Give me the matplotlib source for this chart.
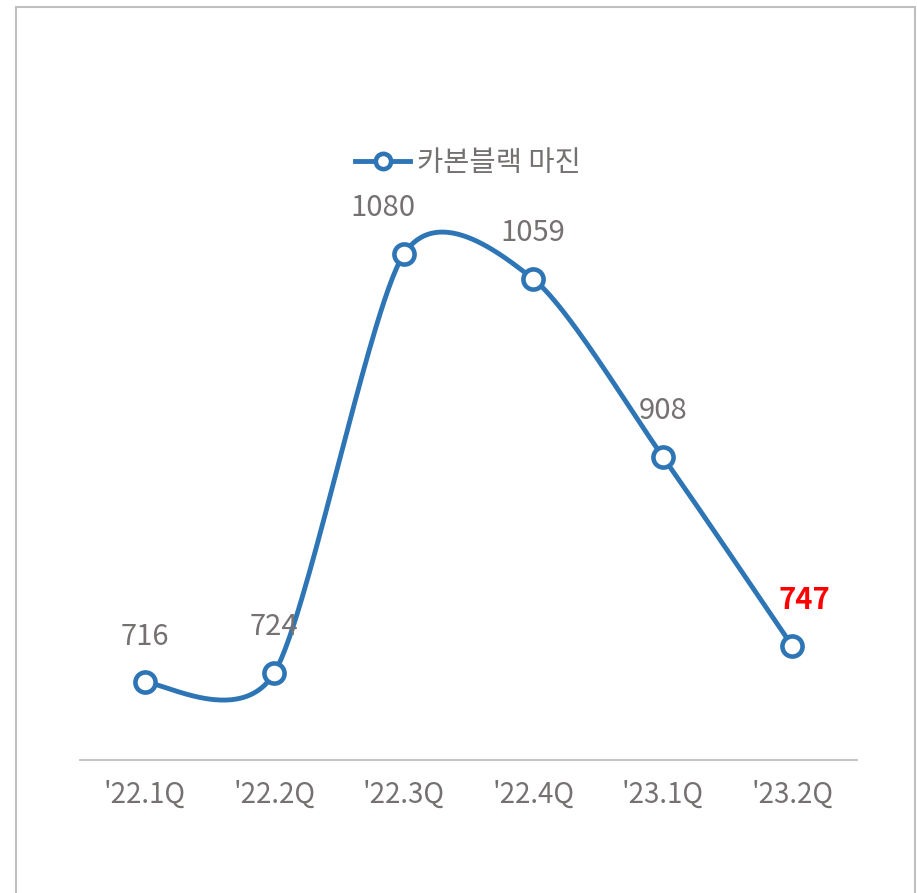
import matplotlib.pyplot as plt
import numpy as np
from matplotlib.patches import Rectangle

# data
quarters = ["'22.1Q", "'22.2Q", "'22.3Q", "'22.4Q", "'23.1Q", "'23.2Q"]
margin = [716, 724, 1080, 1059, 908, 747]
series_name = '카본블랙 마진'

blue = '#2E75B6'
grey = '#767171'

W, H, dpi = 917, 893, 100
fig = plt.figure(figsize=(W / dpi, H / dpi), dpi=dpi)
plt.rcParams['font.family'] = ['Noto Sans CJK KR', 'DejaVu Sans']

# axes box in pixels: x 80..857, y 30..760 (from top)
ax = fig.add_axes([80 / W, (H - 760) / H, 777 / W, 730 / H])
ylo = 650
yhi = ylo + 730 / 1.176
ax.set_xlim(-0.5, len(quarters) - 0.5)
ax.set_ylim(ylo, yhi)

# smoothed line (bezier through points, like Excel), computed in pixel space
xs = np.arange(len(quarters), dtype=float)
ys = np.array(margin, dtype=float)
sx = 777 / len(quarters)
sy = 730 / (yhi - ylo)
P = np.column_stack([xs * sx, ys * sy])
Pe = np.vstack([P[0], P, P[-1]])
k = 0.13
curve = []
t = np.linspace(0, 1, 60)[:, None]
for i in range(len(P) - 1):
    p0, p1, p2, p3 = Pe[i], Pe[i + 1], Pe[i + 2], Pe[i + 3]
    c1 = p1 + (p2 - p0) * k
    c2 = p2 - (p3 - p1) * k
    seg = ((1 - t) ** 3) * p1 + 3 * ((1 - t) ** 2) * t * c1 + 3 * (1 - t) * t ** 2 * c2 + t ** 3 * p2
    curve.append(seg)
curve = np.vstack(curve)
ax.plot(curve[:, 0] / sx, curve[:, 1] / sy, color=blue, lw=3.5, solid_capstyle='round', zorder=2)
ax.plot(xs, ys, ls='none', marker='o', ms=14.5, mew=3.3, mfc='white', mec=blue, zorder=3)

# legend proxy
ax.plot([], [], color=blue, lw=3.5, marker='o', ms=11, mew=3.3, mfc='white', mec=blue, label=series_name)
leg = ax.legend(loc='center', bbox_to_anchor=(468 / W, (H - 163) / H), bbox_transform=fig.transFigure,
                frameon=False, fontsize=20.5, handlelength=1.9, handletextpad=0.25, labelcolor=grey)

# data labels
offsets = [0, 0, -21, 0, 0, 12]
for i, v in enumerate(margin):
    last = i == len(margin) - 1
    ax.annotate(str(v), (xs[i], v), xytext=(offsets[i] * 0.72, 33), textcoords='offset points',
                ha='center', va='center', fontsize=21,
                color='#FF0000' if last else grey,
                fontweight='bold' if last else 'normal')

# axes styling
for s in ['left', 'right', 'top']:
    ax.spines[s].set_visible(False)
ax.spines['bottom'].set_color('#BFBFBF')
ax.spines['bottom'].set_linewidth(1.3)
ax.set_yticks([])
ax.set_xticks(xs)
ax.set_xticklabels(quarters, fontsize=20, color='#767171', fontweight=300)
ax.tick_params(axis='x', length=0, pad=14)

# outer border
fig.patches.append(Rectangle((15.5 / W, -0.05), 899 / W, 1.05 - 7.5 / H, transform=fig.transFigure,
                             fill=False, edgecolor='#BFBFBF', lw=1.5))

fig.savefig('out.png', dpi=dpi)
